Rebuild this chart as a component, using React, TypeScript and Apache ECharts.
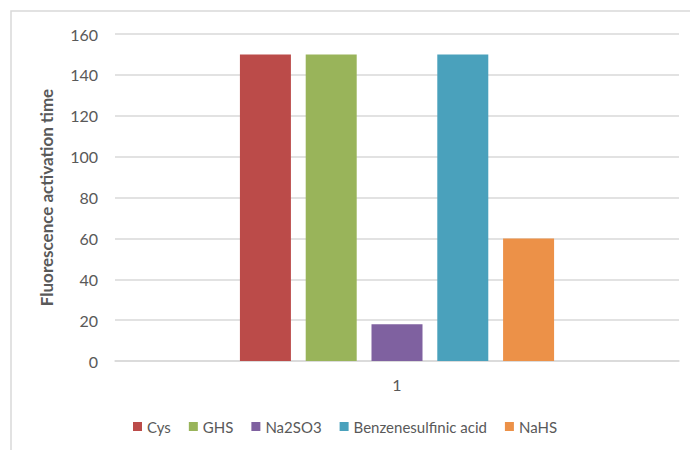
import React, { useEffect, useRef } from "react";
import * as echarts from "echarts";

const categories = ["1"];
const seriesNames = ["Cys", "GHS", "Na2SO3", "Benzenesulfinic acid", "NaHS"];
const seriesValues = [150, 150, 18, 150, 60];
const seriesColors = ["#BB4B49", "#99B45A", "#7F61A0", "#4AA1BC", "#EC9148"];
const yTicks = { min: 0, max: 160, interval: 20 };

export default function App() {
  const ref = useRef<HTMLDivElement>(null);
  useEffect(() => {
    document.body.style.margin = "0";
    const chart = echarts.init(ref.current!, null, { renderer: "svg" });
    const font = "Lato, 'Open Sans', sans-serif";
    chart.setOption({
      animation: false,
      textStyle: { fontFamily: font },
      graphic: [
        {
          type: "rect",
          shape: { x: 11, y: 11, width: 720, height: 480 },
          style: { fill: "none", stroke: "#d9d9d9", lineWidth: 1.5 },
          silent: true,
        },
      ],
      grid: { left: 115, right: 11, top: 34, bottom: 89 },
      legend: {
        bottom: 11,
        left: "center",
        itemWidth: 9,
        itemHeight: 9,
        itemGap: 18,
        icon: "rect",
        textStyle: { color: "#595959", fontSize: 15, fontFamily: font },
        data: seriesNames,
      },
      xAxis: {
        type: "category",
        data: categories,
        axisLine: { lineStyle: { color: "#d9d9d9", width: 1.5 } },
        axisTick: { show: false },
        axisLabel: { color: "#595959", fontSize: 16, margin: 15 },
      },
      yAxis: {
        type: "value",
        min: yTicks.min,
        max: yTicks.max,
        interval: yTicks.interval,
        name: "Fluorescence activation time",
        nameLocation: "middle",
        nameGap: 60,
        nameTextStyle: { color: "#595959", fontSize: 17, fontWeight: "bold", fontFamily: font },
        axisLine: { show: false },
        axisTick: { show: false },
        axisLabel: { color: "#595959", fontSize: 16, margin: 17 },
        splitLine: { lineStyle: { color: "#d9d9d9", width: 1.5 } },
      },
      series: seriesNames.map((name, i) => ({
        name,
        type: "bar",
        data: [seriesValues[i]],
        barWidth: 51,
        barGap: "29%",
        itemStyle: { color: seriesColors[i] },
      })),
    });
    return () => chart.dispose();
  }, []);
  return <div ref={ref} style={{ width: 690, height: 450 }} />;
}
